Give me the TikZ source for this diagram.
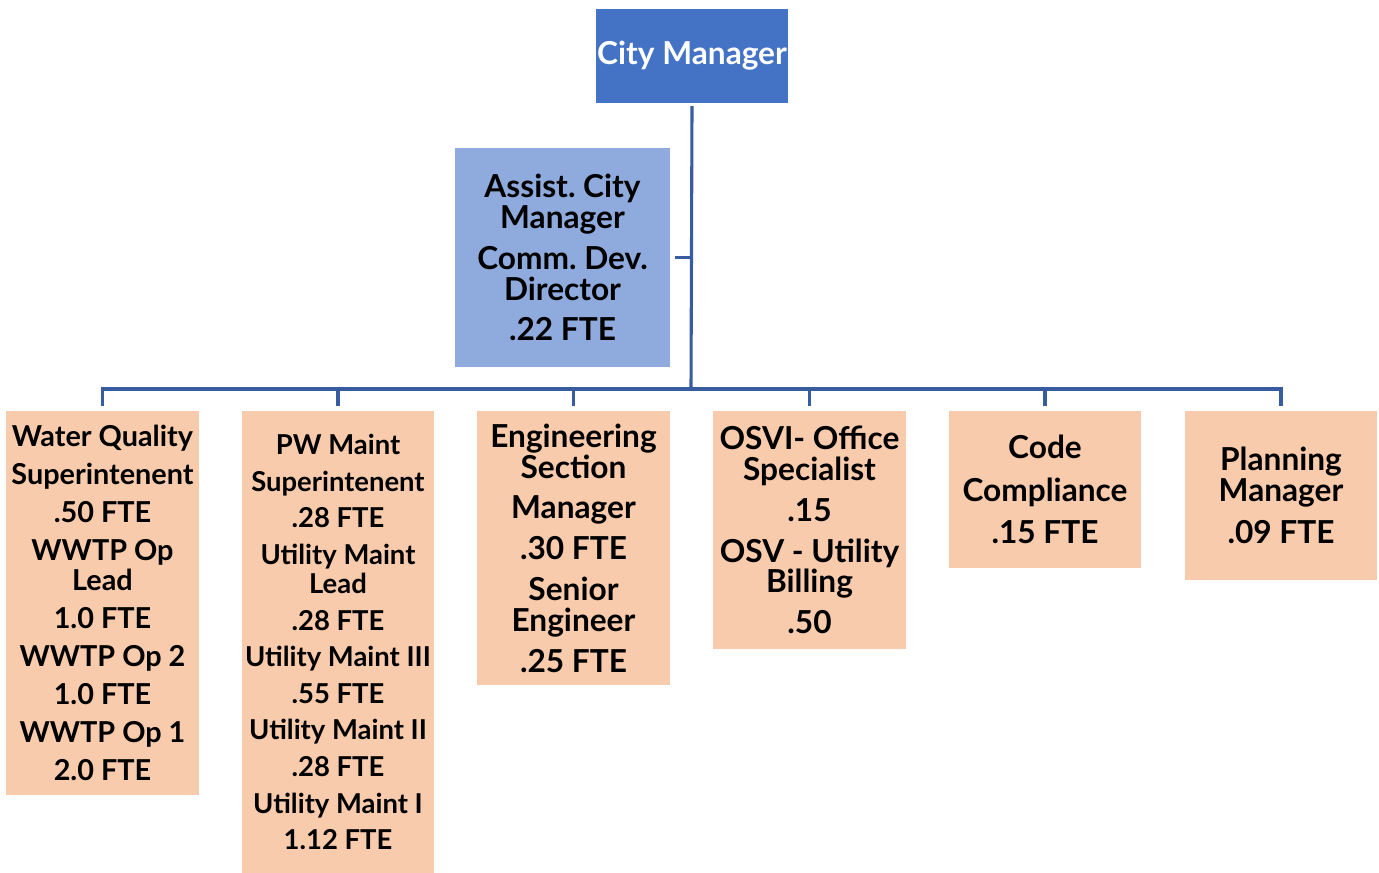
\documentclass[tikz,border=0pt]{standalone}
\usepackage{fontspec}
\setmainfont{Lato}
\definecolor{chiefblue}{RGB}{68,114,196}
\definecolor{deputyblue}{RGB}{143,170,220}
\definecolor{staffpeach}{RGB}{248,203,173}
\definecolor{linkblue}{RGB}{55,92,160}

\begin{document}
\frenchspacing
\begin{tikzpicture}[x=0.025cm,y=-0.025cm,
    box/.style={inner sep=0pt,align=center,minimum width=4.8cm,
                font=\bfseries\fontsize{#1}{22}\selectfont},
    box/.default=22.5,
    chief/.style={box,fill=chiefblue,text=white,minimum height=2.35cm},
    deputy/.style={box,fill=deputyblue,minimum width=5.375cm,minimum height=5.475cm},
    staff/.style={box=#1,fill=staffpeach},
    staff/.default=22.5,
    link/.style={linkblue,line width=2.2pt}]
    \useasboundingbox (0,0) rectangle (1379,873);

    \node [chief] (cm) at (692,56) {City Manager};
    \node [deputy] (ac) at (562.5,257.5) {Assist. City\\Manager\\[7pt]Comm. Dev.\\Director\\[7pt].22 FTE};

    \node [staff=20.5,minimum height=9.6cm]   (wq)   at (102.5,603)  {Water Quality\\[5pt]Superintenent\\[5pt].50 FTE\\[5pt]WWTP Op\\[-1pt]Lead\\[5pt]1.0 FTE\\[5pt]WWTP Op 2\\[5pt]1.0 FTE\\[5pt]WWTP Op 1\\[5pt]2.0 FTE};
    \node [staff=19.5,minimum height=11.55cm] (pw)   at (338,642)    {PW Maint\\[4pt]Superintenent\\[4pt].28 FTE\\[4pt]Utility Maint\\[-1pt]Lead\\[4pt].28 FTE\\[4pt]Utility Maint III\\[4pt].55 FTE\\[4pt]Utility Maint II\\[4pt].28 FTE\\[4pt]Utility Maint I\\[4pt]1.12 FTE};
    \node [staff,minimum height=6.85cm]  (eng)  at (573.5,548)  {Engineering\\Section\\[7pt]Manager\\[7pt].30 FTE\\[7pt]Senior\\Engineer\\[7pt].25 FTE};
    \node [staff,minimum height=5.95cm]  (osv)  at (809.5,530)  {OSVI- Office\\Specialist\\[7pt].15\\[7pt]OSV - Utility\\Billing\\[7pt].50};
    \node [staff,minimum height=3.925cm] (code) at (1045,489.5) {Code\\[8pt]Compliance\\[8pt].15 FTE};
    \node [staff,minimum height=4.225cm] (plan) at (1281,495.5) {Planning\\Manager\\[8pt].09 FTE};

    \coordinate (bus) at (691,389);
    \draw [link] ([yshift=-2pt]cm.south) -- (bus);
    \draw [link] ([xshift=3pt]ac.east) -- (ac.east -| bus);
    \foreach \n in {wq,pw,eng,osv,code,plan}
        \draw [link] (bus) -| ([yshift=3pt]\n.north);
\end{tikzpicture}
\end{document}
